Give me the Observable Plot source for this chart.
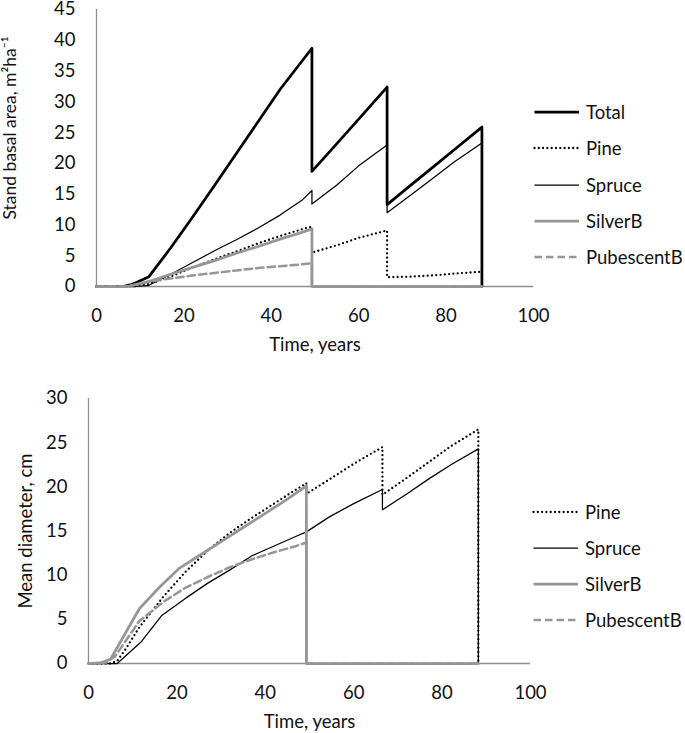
<!DOCTYPE html>
<html>
<head>
<meta charset="utf-8">
<script src="https://cdn.jsdelivr.net/npm/d3@7"></script>
<script src="https://cdn.jsdelivr.net/npm/@observablehq/plot@0.6"></script>
<style>
  body { margin: 0; background: #fff; font-family: Lato, "Open Sans", sans-serif; }
  #wrap { position: relative; width: 685px; height: 733px; overflow: hidden; background: #fff; }
  .chart { position: absolute; left: 0; }
  .item { position: absolute; display: flex; align-items: center; white-space: nowrap; font-size: 18.5px; color: #111; height: 24px; }
  .item svg { display: block; margin-right: 6px; }
</style>
</head>
<body>
<div id="wrap"></div>
<script>
// ---------------- DATA ----------------
const xTicks = [0, 20, 40, 60, 80, 100];
const baTicks = [0, 5, 10, 15, 20, 25, 30, 35, 40, 45];
const dTicks = [0, 5, 10, 15, 20, 25, 30];
const baSeriesNames = ["Total", "Pine", "Spruce", "SilverB", "PubescentB"];
const dSeriesNames = ["Pine", "Spruce", "SilverB", "PubescentB"];

// Stand basal area, m2/ha  ([time, value])
const baTotal = [[0,0],[6,0],[8,0.3],[12,1.6],[17,6.3],[22,11.3],[27,16.4],[32,21.6],[37,26.8],[42,32.0],[49.3,38.7],[49.3,18.7],[55,23.2],[60,27.2],[66.5,32.4],[66.5,13.3],[72,16.5],[77,19.4],[82,22.3],[88.2,25.9],[88.2,0]];
const baPine = [[0,0],[7,0],[12,0.4],[17,1.6],[22,3.1],[27,4.4],[32,5.7],[37,7.0],[42,8.2],[47,9.3],[49.3,9.7],[49.3,5.5],[55,6.7],[60,7.9],[66.5,9.1],[66.5,1.5],[72,1.6],[77,1.8],[82,2.1],[88.2,2.4],[88.2,0]];
const baSpruce = [[0,0],[9,0],[12,0.2],[17,2.0],[22,3.9],[27,5.8],[32,7.6],[37,9.5],[42,11.6],[47,14.0],[49.3,15.6],[49.3,13.4],[55,16.5],[60,19.6],[66.5,23.0],[66.5,12.0],[72,14.9],[77,17.6],[82,20.3],[88.2,23.3],[88.2,0]];
const baSilverB = [[0,0],[7,0],[12,0.8],[17,2.0],[22,3.1],[27,4.2],[32,5.4],[37,6.5],[42,7.7],[47,8.8],[49.3,9.35],[49.3,0],[88.2,0]];
const baPubescentB = [[0,0],[7,0],[12,0.8],[17,1.3],[22,1.8],[27,2.2],[32,2.6],[37,3.0],[42,3.3],[47,3.6],[49.3,3.8],[49.3,0],[88.2,0]];

// Mean diameter, cm  ([time, value])
const dPine = [[0,0],[5,0],[6.5,0.3],[8.5,1.7],[11.5,4.1],[17,7.6],[22,10.4],[27,12.8],[32,14.8],[37,16.5],[42,18.1],[47,19.7],[49.3,20.4],[49.3,19.2],[55,21.0],[60,22.6],[66.5,24.5],[66.5,19.1],[72,21.0],[77,22.8],[82,24.6],[88.2,26.5],[88.2,0]];
const dSpruce = [[0,0],[6.5,0],[8.5,0.9],[12,2.5],[16.5,5.4],[22,7.4],[27,9.1],[32,10.6],[37,12.2],[42,13.3],[47,14.4],[49.3,14.9],[54.5,16.6],[60,18.1],[66.5,19.7],[66.5,17.4],[72,19.2],[77,20.9],[82,22.5],[88.2,24.3],[88.2,0]];
const dSilverB = [[0,0],[3,0.1],[5,0.5],[11.5,6.2],[16,8.6],[20.6,10.8],[25,12.2],[30,13.8],[35,15.4],[40,17.0],[45,18.6],[49.3,20.1],[49.3,0],[88.2,0]];
const dPubescentB = [[0,0],[4,0.1],[6,0.8],[11.5,4.8],[17,7.0],[22,8.6],[27,9.8],[32,10.9],[37,11.8],[42,12.6],[47,13.3],[49.3,13.7],[49.3,0],[88.2,0]];

// ---------------- STYLES ----------------
const FONT = "Lato, 'Open Sans', sans-serif";
const AXIS = "#8e8e8e";
const GREY = "#969696";
const lineStyle = {
  Total:      {stroke: "#000", strokeWidth: 2.75},
  Pine:       {stroke: "#000", strokeWidth: 2.3, strokeDasharray: "0,4.3", strokeLinecap: "round"},
  Spruce:     {stroke: "#000", strokeWidth: 1.25},
  SilverB:    {stroke: GREY,  strokeWidth: 2.75},
  PubescentB: {stroke: GREY,  strokeWidth: 2.5, strokeDasharray: "7.5,4"}
};

function makeChart({series, yMax, yTicks, yTitle, titleSize, marginLeft, marginRight, marginTop, marginBottom, height, titleDx, titleDy, labelOffset}) {
  return Plot.plot({
    width: 685,
    height,
    marginLeft, marginRight, marginTop, marginBottom,
    style: {fontFamily: FONT, fontSize: "18.5px", color: "#111", background: "transparent", overflow: "visible"},
    x: {domain: [0, 100]},
    y: {domain: [0, yMax]},
    marks: [
      Plot.ruleX([0], {stroke: AXIS, strokeWidth: 1.3}),
      Plot.ruleY([0], {stroke: AXIS, strokeWidth: 1.3}),
      Plot.axisX({ticks: xTicks, tickSize: 0, tickPadding: 22, label: "Time, years", labelAnchor: "center", labelArrow: "none", labelOffset, fill: "#111"}),
      Plot.axisY({ticks: yTicks, tickSize: 0, tickPadding: 21, label: null, fill: "#111"}),
      Plot.text([yTitle], {frameAnchor: "left", rotate: -90, dx: titleDx, dy: titleDy, lineAnchor: "top", textAnchor: "middle", fill: "#111", fontSize: titleSize}),
      ...series.map(([name, data]) => Plot.line(data, {x: d => d[0], y: d => d[1], ...lineStyle[name]}))
    ]
  });
}

const wrap = document.getElementById("wrap");

const chartBA = makeChart({
  series: [["Total", baTotal], ["Pine", baPine], ["Spruce", baSpruce], ["SilverB", baSilverB], ["PubescentB", baPubescentB]],
  yMax: 45, yTicks: baTicks, yTitle: "Stand basal area, m²ha⁻¹", titleSize: 17.5,
  marginLeft: 96, marginRight: 152, marginTop: 9, marginBottom: 74, height: 360,
  titleDx: -93, titleDy: -20, labelOffset: 64
});
chartBA.classList.add("chart");
chartBA.style.top = "0px";
wrap.appendChild(chartBA);

const chartD = makeChart({
  series: [["Pine", dPine], ["Spruce", dSpruce], ["SilverB", dSilverB], ["PubescentB", dPubescentB]],
  yMax: 30, yTicks: dTicks, yTitle: "Mean diameter, cm", titleSize: 18.5,
  marginLeft: 88, marginRight: 155, marginTop: 23, marginBottom: 70, height: 358,
  titleDx: -70, titleDy: 0, labelOffset: 64
});
chartD.classList.add("chart");
chartD.style.top = "375px";
wrap.appendChild(chartD);

// ---------------- LEGENDS ----------------
function legend(names, left, firstY, step) {
  names.forEach((name, i) => {
    const div = document.createElement("div");
    div.className = "item";
    div.style.left = left + "px";
    div.style.top = (firstY + i * step - 12) + "px";
    const svg = d3.create("svg").attr("width", 47).attr("height", 24);
    const s = lineStyle[name];
    svg.append("line").attr("x1", 1.5).attr("x2", 46).attr("y1", 12).attr("y2", 12)
      .attr("stroke", s.stroke).attr("stroke-width", s.strokeWidth)
      .attr("stroke-linecap", s.strokeLinecap || "butt")
      .attr("stroke-dasharray", s.strokeDasharray || null);
    div.appendChild(svg.node());
    const span = document.createElement("span");
    span.textContent = name;
    div.appendChild(span);
    wrap.appendChild(div);
  });
}
legend(baSeriesNames, 533, 112, 36.3);
legend(dSeriesNames, 532, 512, 36);
</script>
</body>
</html>
